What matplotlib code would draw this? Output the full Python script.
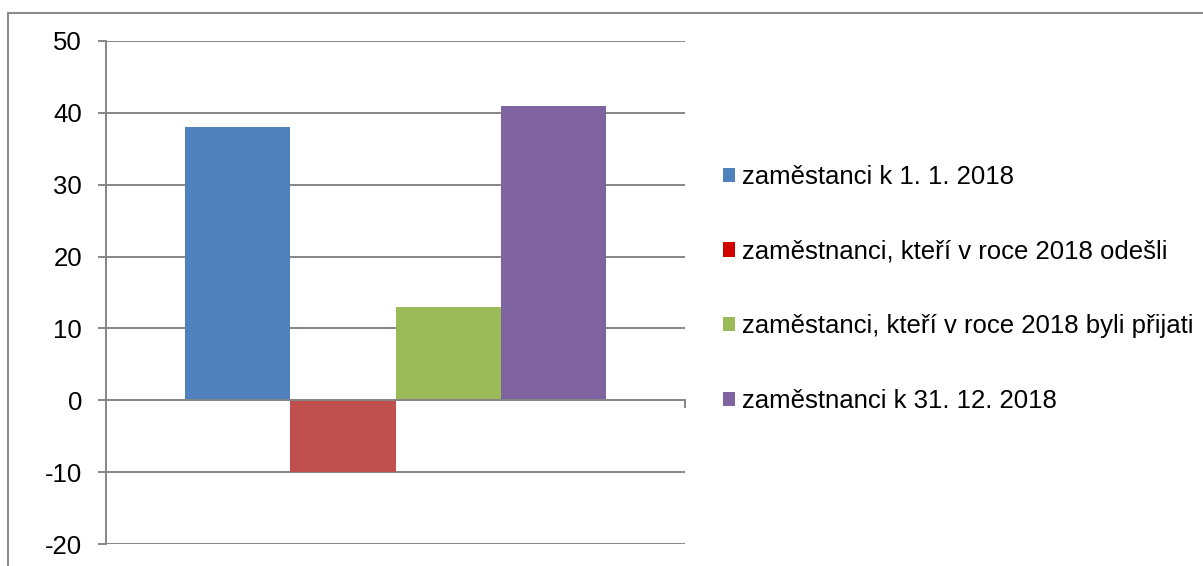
import matplotlib.pyplot as plt
from matplotlib.patches import Patch, Rectangle

plt.rcParams['font.family'] = ['Liberation Sans', 'DejaVu Sans']

nazvy = ['zaměstanci k 1. 1. 2018',
         'zaměstnanci, kteří v roce 2018 odešli',
         'zaměstanci, kteří v roce 2018 byli přijati',
         'zaměstnanci k 31. 12. 2018']
hodnoty = [38, -10, 13, 41]
barvy = ['#4F81BD', '#C0504D', '#9BBB59', '#8064A2']
barvy_legenda = ['#4F81BD', '#D00000', '#9BBB59', '#8064A2']
osa_y = [-20, -10, 0, 10, 20, 30, 40, 50]

fig = plt.figure(figsize=(12.03, 5.66), dpi=100)
ax = fig.add_axes([106/1203, 1 - 544/566, 579/1203, 503/566])

# ramecek kolem grafu
fig.patches.append(Rectangle((8/1203, -0.1), 1.2, 1.1 - 13/566, transform=fig.transFigure,
                             fill=False, edgecolor='#8C8C8C', linewidth=1.5, zorder=0))

sirka = 0.182
for i, (h, b) in enumerate(zip(hodnoty, barvy)):
    ax.bar((i - 1.5) * sirka, h, width=sirka, color=b, zorder=2)

ax.set_xlim(-0.5, 0.5)
ax.set_ylim(-20, 50)
ax.set_yticks(osa_y)
ax.set_yticklabels([str(v) for v in osa_y])
ax.set_xticks([-0.5, 0.5])
ax.set_xticklabels(['', ''])

ax.grid(axis='y', color='#868686', linewidth=1.4, zorder=1)
for s in ['top', 'right']:
    ax.spines[s].set_visible(False)
ax.spines['left'].set_color('#868686')
ax.spines['left'].set_linewidth(1.4)
ax.spines['bottom'].set_position(('data', 0))
ax.spines['bottom'].set_color('#868686')
ax.spines['bottom'].set_linewidth(1.4)
ax.spines['bottom'].set_zorder(3)
ax.tick_params(axis='y', length=5.8, width=1.4, color='#868686', labelsize=18.5, pad=11.5)
ax.tick_params(axis='x', length=5.8, width=1.4, color='#868686')

handles = [Patch(facecolor=c, edgecolor='none') for c in barvy_legenda]
fig.legend(handles, nazvy, loc='center left', bbox_to_anchor=(723/1203, 1 - 289/566),
           frameon=False, fontsize=18.5, handlelength=0.47, handleheight=0.47,
           handletextpad=0.27, labelspacing=1.97, borderpad=0, borderaxespad=0)

fig.savefig('out.png', dpi=100)
